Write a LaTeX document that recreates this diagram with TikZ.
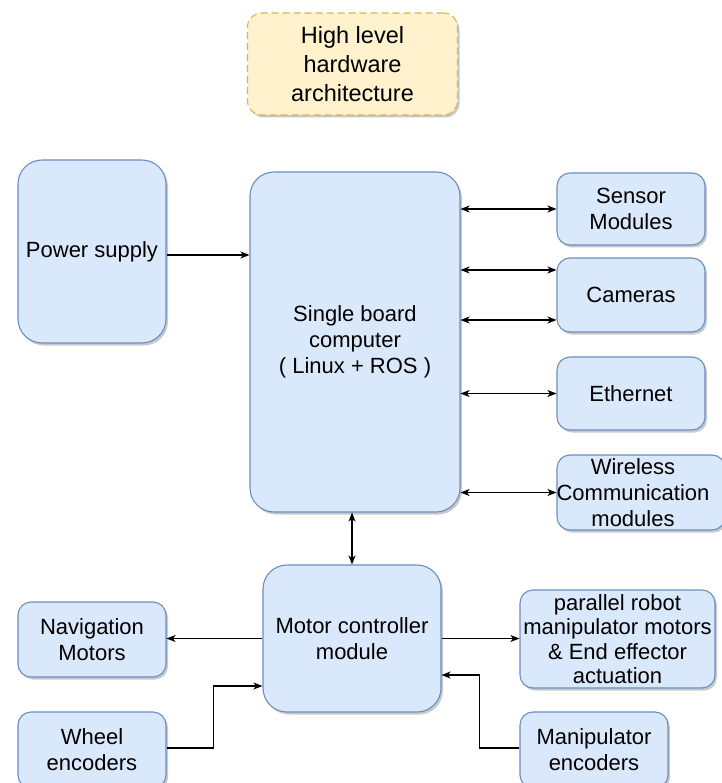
\documentclass[tikz,border=0pt]{standalone}
\usepackage{fontspec}
\setmainfont{Liberation Sans}
\usetikzlibrary{arrows.meta,shadows,calc}
\definecolor{bfill}{HTML}{DAE8FC}
\definecolor{bdraw}{HTML}{6C8EBF}
\definecolor{yfill}{HTML}{FFF2CC}
\definecolor{ydraw}{HTML}{D6B656}
\tikzset{
  blk/.style={draw=bdraw, fill=bfill, line width=1.1pt, rounded corners=13pt,
    align=center, font=\fontsize{22}{26}\selectfont, inner sep=2pt,
    drop shadow={shadow xshift=2pt, shadow yshift=-2.5pt, opacity=0.35, fill=black!60}},
  bigblk/.style={blk, rounded corners=24pt},
  ttl/.style={draw=ydraw, fill=yfill, line width=1.1pt, dashed, dash pattern=on 7pt off 4pt,
    rounded corners=14pt, align=center, font=\fontsize{23.5}{29}\selectfont,
    drop shadow={shadow xshift=2pt, shadow yshift=-2.5pt, opacity=0.35, fill=black!60}},
  con/.style={line width=1.3pt, draw=black},
  tip/.style={-{Stealth[length=9pt,width=7pt,inset=2.5pt]}},
  dtip/.style={{Stealth[length=9pt,width=7pt,inset=2.5pt]}-{Stealth[length=9pt,width=7pt,inset=2.5pt]}}
}
\begin{document}
\begin{tikzpicture}[x=1pt,y=-1pt]
\useasboundingbox (0,0) rectangle (721,783);
\fill[white] (0,0) rectangle (721,783);
\node[ttl, minimum width=210pt, minimum height=102pt] (title) at (352.5,64) {High level\\hardware\\architecture};
\node[bigblk, minimum width=148pt, minimum height=183pt] (power) at (92,251.5) {Power supply};
\node[bigblk, minimum width=210pt, minimum height=340pt] (sbc) at (355,342) {Single board\\computer\\( Linux + ROS )};
\node[blk, minimum width=148pt, minimum height=72pt] (sensor) at (631,209) {Sensor\\Modules};
\node[blk, minimum width=148pt, minimum height=74pt] (cameras) at (631,295) {Cameras};
\node[blk, minimum width=148pt, minimum height=73pt] (ethernet) at (631,393.5) {Ethernet};
\node[blk, minimum width=168pt, minimum height=75pt, text width=160pt] (wireless) at (641,492.5) {\hspace*{-16pt}Wireless\\\hspace*{-16pt}Communication\\\hspace*{-16pt}modules};
\node[bigblk, minimum width=178pt, minimum height=147pt] (motor) at (352,638.5) {Motor controller\\module};
\node[blk, minimum width=148pt, minimum height=75pt] (nav) at (92,639.5) {Navigation\\Motors};
\node[blk, minimum width=148pt, minimum height=76pt] (wheel) at (92,750) {Wheel\\encoders};
\node[blk, minimum width=195pt, minimum height=98pt, font=\fontsize{22}{24.5}\selectfont] (parallel) at (617.5,639) {parallel robot\\manipulator motors\\\& End effector\\actuation};
\node[blk, minimum width=148pt, minimum height=76pt] (manip) at (594,750) {Manipulator\\encoders};

\draw[con,tip] (power.east) ++(0,3.5) coordinate (pw) -- (pw -| sbc.west);
\draw[con,dtip] (sbc.east |- sensor.west) -- (sensor.west);
\draw[con,dtip] ($(cameras.west)+(0,-25)$) coordinate (c1) (c1 -| sbc.east) -- (c1);
\draw[con,dtip] ($(cameras.west)+(0,25)$) coordinate (c2) (c2 -| sbc.east) -- (c2);
\draw[con,dtip] (sbc.east |- ethernet.west) -- (ethernet.west);
\draw[con,dtip] (sbc.east |- wireless.west) -- (wireless.west);
\draw[con,dtip] (motor.north |- sbc.south) -- (motor.north);
\draw[con,tip] (motor.west) -- (nav.east |- motor.west);
\draw[con,tip] (motor.east) -- (parallel.west |- motor.east);
\coordinate (wheelin) at ($(motor.west)+(0,47.5)$);
\draw[con,tip] ($(wheel.east)+(0,-2)$) -- ++(47,0) |- (wheelin);
\coordinate (manin) at ($(motor.east)+(0,36.5)$);
\draw[con,tip] ($(manip.west)+(0,-2)$) -- ++(-40,0) |- (manin);
\end{tikzpicture}
\end{document}
